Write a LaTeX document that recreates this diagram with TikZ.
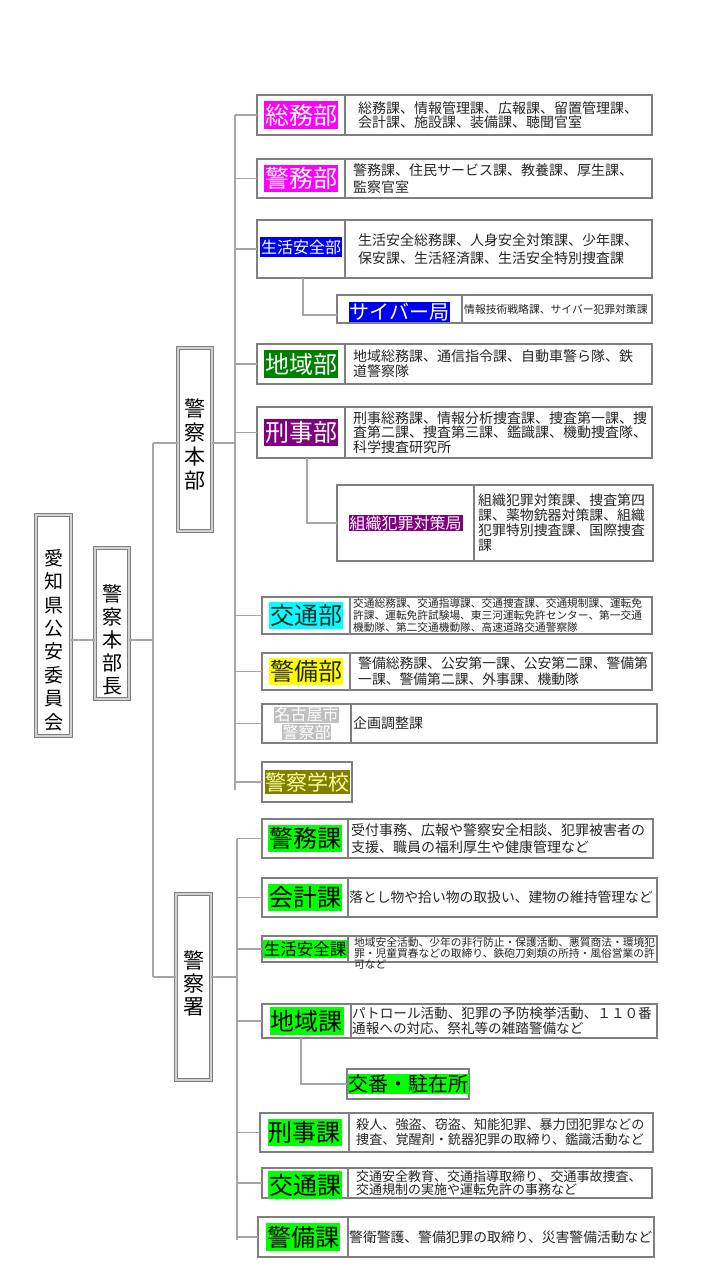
\documentclass[tikz,border=0pt]{standalone}
\usepackage{fontspec}
\setmainfont{Noto Sans CJK JP}
\usepackage{xcolor}
\usepackage{tikz}
\usetikzlibrary{positioning}
\definecolor{boxgray}{HTML}{7F7F7F}
\definecolor{linegray}{HTML}{A6A6A6}
\definecolor{txtgray}{HTML}{262626}
\definecolor{bumag}{HTML}{FF00FF}
\definecolor{bublue}{HTML}{0000F0}
\definecolor{budgreen}{HTML}{008000}
\definecolor{bupurple}{HTML}{800080}
\definecolor{bucyan}{HTML}{00FFFF}
\definecolor{buyellow}{HTML}{FFFF00}
\definecolor{busilver}{HTML}{C0C0C0}
\definecolor{buolive}{HTML}{808000}
\definecolor{bulightyel}{HTML}{FFFF99}
\definecolor{kalime}{HTML}{00FF00}
\newcommand\fsz[2]{\fontsize{#1}{#2}\selectfont}

\begin{document}
\begin{tikzpicture}[x=1pt, y=-1pt,
    cell/.style={draw=boxgray, line width=2.5pt, inner sep=0pt, outer sep=0pt},
    tall/.style={draw=boxgray, line width=1.1pt, double=gray!35, double distance=1.6pt,
                 inner sep=0pt, outer sep=0pt},
    vtext/.style={align=center, text=black, inner sep=0pt},
    lbl/.style={inner xsep=1pt, inner ysep=2.5pt},
    desc/.style={anchor=west, align=left, text=txtgray, inner sep=0pt},
    conn/.style={draw=linegray, line width=1.2pt}]
  \fill[white] (0,0) rectangle (720,1280);
  \useasboundingbox (0,0) rectangle (720,1280);

  % left column
  \node[tall, minimum width=35pt, minimum height=221pt] (iinkai) at (53.5,625.5) {};
  \node[vtext, font=\fsz{19}{23.4}] (iinkai-t) at (53.5,640) {愛\\知\\県\\公\\安\\委\\員\\会};
  \node[tall, minimum width=34pt, minimum height=151pt] (honbucho) at (112,623.5) {};
  \node[vtext, font=\fsz{20}{23}] (honbucho-t) at (112,640) {警\\察\\本\\部\\長};
  \node[tall, minimum width=34pt, minimum height=183pt] (honbu) at (195,439.5) {};
  \node[vtext, font=\fsz{21}{24}] (honbu-t) at (195,445) {警\\察\\本\\部};
  \node[tall, minimum width=35pt, minimum height=186pt] (keisatsusho) at (193.5,987) {};
  \node[vtext, font=\fsz{21}{23}] (keisatsusho-t) at (193.5,983) {警\\察\\署};

  % 警察本部
  \node[cell, minimum width=88pt, minimum height=40pt] (somu) at (301,115) {};
  \node[cell, minimum width=307pt, minimum height=40pt, right=0pt of somu] (somu-r) {};
  \node[lbl, fill=bumag, text=white, font=\fsz{24}{24}] (somu-l) at (somu) {総務部};
  \node[desc, font=\fsz{14}{14.5}] (somu-d) at ([xshift=13pt]somu-r.west)
    {総務課、情報管理課、広報課、留置管理課、\\会計課、施設課、装備課、聴聞官室};

  \node[cell, minimum width=88pt, minimum height=39pt] (keimu) at (301,178.5) {};
  \node[cell, minimum width=307pt, minimum height=39pt, right=0pt of keimu] (keimu-r) {};
  \node[lbl, fill=bumag, text=white, font=\fsz{24}{24}] (keimu-l) at (keimu) {警務部};
  \node[desc, font=\fsz{14}{17}] (keimu-d) at ([xshift=8pt]keimu-r.west)
    {警務課、住民サービス課、教養課、厚生課、\\監察官室};

  \node[cell, minimum width=88pt, minimum height=58pt] (seikatsu) at (301,249) {};
  \node[cell, minimum width=307pt, minimum height=58pt, right=0pt of seikatsu] (seikatsu-r) {};
  \node[lbl, fill=bublue, text=white, font=\fsz{16}{16}] (seikatsu-l) at ([yshift=2pt]seikatsu) {生活安全部};
  \node[desc, font=\fsz{14}{18}] (seikatsu-d) at ([xshift=13pt]seikatsu-r.west)
    {生活安全総務課、人身安全対策課、少年課、\\保安課、生活経済課、生活安全特別捜査課};

  \node[cell, minimum width=125pt, minimum height=28pt] (cyber) at (399.5,309) {};
  \node[cell, minimum width=190pt, minimum height=28pt, right=0pt of cyber] (cyber-r) {};
  \node[lbl, inner ysep=1pt, fill=bublue, text=white, font=\fsz{20}{20}] (cyber-l) at ([yshift=-3pt]cyber) {サイバー局};
  \node[desc, font=\fsz{10.8}{12}] (cyber-d) at ([xshift=2pt]cyber-r.west)
    {情報技術戦略課、サイバー犯罪対策課};

  \node[cell, minimum width=88pt, minimum height=40pt] (chiiki) at (301,364) {};
  \node[cell, minimum width=307pt, minimum height=40pt, right=0pt of chiiki] (chiiki-r) {};
  \node[lbl, fill=budgreen, text=white, font=\fsz{24}{24}] (chiiki-l) at (chiiki) {地域部};
  \node[desc, font=\fsz{14}{15}] (chiiki-d) at ([xshift=8pt]chiiki-r.west)
    {地域総務課、通信指令課、自動車警ら隊、鉄\\道警察隊};

  \node[cell, minimum width=88pt, minimum height=51pt] (keiji) at (301,432.5) {};
  \node[cell, minimum width=307pt, minimum height=51pt, right=0pt of keiji] (keiji-r) {};
  \node[lbl, fill=bupurple, text=white, font=\fsz{24}{24}] (keiji-l) at (keiji) {刑事部};
  \node[desc, font=\fsz{14}{14.2}] (keiji-d) at ([xshift=8pt]keiji-r.west)
    {刑事総務課、情報分析捜査課、捜査第一課、捜\\査第二課、捜査第三課、鑑識課、機動捜査隊、\\科学捜査研究所};

  \node[cell, minimum width=137pt, minimum height=76pt] (soshiki) at (405.5,523) {};
  \node[cell, minimum width=179pt, minimum height=76pt, right=0pt of soshiki] (soshiki-r) {};
  \node[lbl, inner ysep=0.5pt, fill=bupurple, text=white, font=\fsz{16}{16}] (soshiki-l) at (soshiki) {組織犯罪対策局};
  \node[desc, font=\fsz{13.9}{15}] (soshiki-d) at ([xshift=4pt]soshiki-r.west)
    {組織犯罪対策課、捜査第四\\課、薬物銃器対策課、組織\\犯罪特別捜査課、国際捜査\\課};

  \node[cell, minimum width=88pt, minimum height=37pt] (kotsu) at (306,615.5) {};
  \node[cell, minimum width=302pt, minimum height=37pt, right=0pt of kotsu] (kotsu-r) {};
  \node[lbl, fill=bucyan, text=txtgray, font=\fsz{24}{24}] (kotsu-l) at (kotsu) {交通部};
  \node[desc, font=\fsz{10.7}{11.7}] (kotsu-d) at ([xshift=3pt]kotsu-r.west)
    {交通総務課、交通指導課、交通捜査課、交通規制課、運転免\\許課、運転免許試験場、東三河運転免許センター、第一交通\\機動隊、第二交通機動隊、高速道路交通警察隊};

  \node[cell, minimum width=88pt, minimum height=37pt] (keibi) at (306,671.5) {};
  \node[cell, minimum width=302pt, minimum height=37pt, right=0pt of keibi] (keibi-r) {};
  \node[lbl, fill=buyellow, text=txtgray, font=\fsz{24}{24}] (keibi-l) at (keibi) {警備部};
  \node[desc, font=\fsz{13.8}{16}] (keibi-d) at ([xshift=8pt]keibi-r.west)
    {警備総務課、公安第一課、公安第二課、警備第\\一課、警備第二課、外事課、機動隊};

  \node[cell, minimum width=89pt, minimum height=39pt] (nagoya) at (306.5,723.5) {};
  \node[cell, minimum width=306pt, minimum height=39pt, right=0pt of nagoya] (nagoya-r) {};
  \node[inner sep=0pt, align=center, text=white, font=\fsz{16}{17.5}\setlength{\fboxsep}{0.6pt}] (nagoya-l) at (nagoya)
    {\colorbox{busilver}{名古屋市}\\\colorbox{busilver}{警察部}};
  \node[desc, font=\fsz{14}{15}] (nagoya-d) at ([xshift=2pt]nagoya-r.west) {企画調整課};

  \node[cell, minimum width=90pt, minimum height=40pt] (gakko) at (307,782) {};
  \node[lbl, inner xsep=0.5pt, fill=buolive, text=bulightyel, font=\fsz{21}{21}] (gakko-l) at (gakko) {警察学校};

  % 警察署
  \node[cell, minimum width=86pt, minimum height=39pt] (s-keimu) at (305,838.5) {};
  \node[cell, minimum width=305pt, minimum height=39pt, right=0pt of s-keimu] (s-keimu-r) {};
  \node[lbl, fill=kalime, text=black, font=\fsz{24}{24}] (s-keimu-l) at (s-keimu) {警務課};
  \node[desc, font=\fsz{14}{17}] (s-keimu-d) at ([xshift=3pt]s-keimu-r.west)
    {受付事務、広報や警察安全相談、犯罪被害者の\\支援、職員の福利厚生や健康管理など};

  \node[cell, minimum width=86pt, minimum height=39pt] (kaikei) at (305,897.5) {};
  \node[cell, minimum width=309pt, minimum height=39pt, right=0pt of kaikei] (kaikei-r) {};
  \node[lbl, fill=kalime, text=black, font=\fsz{24}{24}] (kaikei-l) at (kaikei) {会計課};
  \node[desc, font=\fsz{13.8}{15}] (kaikei-d) at ([xshift=1pt]kaikei-r.west)
    {落とし物や拾い物の取扱い、建物の維持管理など};

  \node[cell, minimum width=86pt, minimum height=26pt] (s-seikatsu) at (305,949) {};
  \node[cell, minimum width=309pt, minimum height=26pt, right=0pt of s-seikatsu] (s-seikatsu-r) {};
  \node[lbl, inner ysep=1pt, fill=kalime, text=black, font=\fsz{16.5}{16.5}] (s-seikatsu-l) at (s-seikatsu) {生活安全課};
  \node[desc, anchor=north west, font=\fsz{10.75}{10.9}] (s-seikatsu-d) at ([xshift=6pt,yshift=-1.5pt]s-seikatsu-r.north west)
    {地域安全活動、少年の非行防止・保護活動、悪質商法・環境犯\\罪・児童買春などの取締り、鉄砲刀剣類の所持・風俗営業の許\\可など};

  \node[cell, minimum width=89pt, minimum height=34pt] (s-chiiki) at (306.5,1021) {};
  \node[cell, minimum width=306pt, minimum height=34pt, right=0pt of s-chiiki] (s-chiiki-r) {};
  \node[lbl, fill=kalime, text=black, font=\fsz{24}{24}] (s-chiiki-l) at (s-chiiki) {地域課};
  \node[desc, font=\fsz{13.6}{14.4}] (s-chiiki-d) at ([xshift=1pt]s-chiiki-r.west)
    {パトロール活動、犯罪の予防検挙活動、１１０番\\通報への対応、祭礼等の雑踏警備など};

  \node[cell, minimum width=122pt, minimum height=30pt] (koban) at (408,1084) {};
  \node[lbl, inner xsep=0.5pt, inner ysep=0.5pt, fill=kalime, text=black, font=\fsz{20}{20}] (koban-l) at (koban) {交番・駐在所};

  \node[cell, minimum width=89pt, minimum height=39pt] (s-keiji) at (304.5,1132.5) {};
  \node[cell, minimum width=304pt, minimum height=39pt, right=0pt of s-keiji] (s-keiji-r) {};
  \node[lbl, fill=kalime, text=black, font=\fsz{24}{24}] (s-keiji-l) at (s-keiji) {刑事課};
  \node[desc, font=\fsz{13.1}{15}] (s-keiji-d) at ([xshift=7pt]s-keiji-r.west)
    {殺人、強盗、窃盗、知能犯罪、暴力団犯罪などの\\捜査、覚醒剤・銃器犯罪の取締り、鑑識活動など};

  \node[cell, minimum width=86pt, minimum height=30pt] (s-kotsu) at (305,1183) {};
  \node[cell, minimum width=304pt, minimum height=30pt, right=0pt of s-kotsu] (s-kotsu-r) {};
  \node[lbl, fill=kalime, text=black, font=\fsz{24}{24}] (s-kotsu-l) at ([yshift=-2pt]s-kotsu) {交通課};
  \node[desc, font=\fsz{13}{13.2}] (s-kotsu-d) at ([xshift=8pt]s-kotsu-r.west)
    {交通安全教育、交通指導取締り、交通事故捜査、\\交通規制の実施や運転免許の事務など};

  \node[cell, minimum width=90pt, minimum height=40pt] (s-keibi) at (303,1237) {};
  \node[cell, minimum width=306pt, minimum height=40pt, right=0pt of s-keibi] (s-keibi-r) {};
  \node[lbl, fill=kalime, text=black, font=\fsz{24}{24}] (s-keibi-l) at (s-keibi) {警備課};
  \node[desc, font=\fsz{13.8}{15}] (s-keibi-d) at ([xshift=1pt]s-keibi-r.west)
    {警衛警護、警備犯罪の取締り、災害警備活動など};

  % connectors
  \coordinate (chief) at (153,640);
  \coordinate (hq) at (153,443);
  \coordinate (st) at (153,977);
  \coordinate (hbus) at (235,115);
  \coordinate (hbus-end) at (235,790);
  \coordinate (sbus) at (237,838.5);
  \coordinate (sbus-end) at (237,1240);
  \draw[conn] (iinkai.east |- chief) -- (honbucho.west |- chief);
  \draw[conn] (honbucho.east |- chief) -- (chief);
  \draw[conn] (hq) -- (st);
  \draw[conn] (hq) -- (honbu.west |- hq);
  \draw[conn] (honbu.east |- hq) -- (hbus |- hq);
  \draw[conn] (st) -- (keisatsusho.west |- st);
  \draw[conn] (keisatsusho.east |- st) -- (sbus |- st);
  \draw[conn] (hbus) -- (hbus-end);
  \draw[conn] (sbus) -- (sbus-end);
  \foreach \n in {somu,keimu,seikatsu,chiiki,keiji,kotsu,keibi,nagoya,gakko}
    \draw[conn] (hbus |- \n.west) -- (\n.west);
  \foreach \n in {s-keimu,kaikei,s-seikatsu,s-chiiki,s-keiji,s-kotsu,s-keibi}
    \draw[conn] (sbus |- \n.west) -- (\n.west);
  \draw[conn] (seikatsu.south west) ++(46pt,0) |- ([yshift=-6pt]cyber.west);
  \draw[conn] (keiji.south west) ++(50pt,0) |- (soshiki.west);
  \draw[conn] (s-chiiki.south west) ++(39pt,0) |- (koban.west);
\end{tikzpicture}
\end{document}
